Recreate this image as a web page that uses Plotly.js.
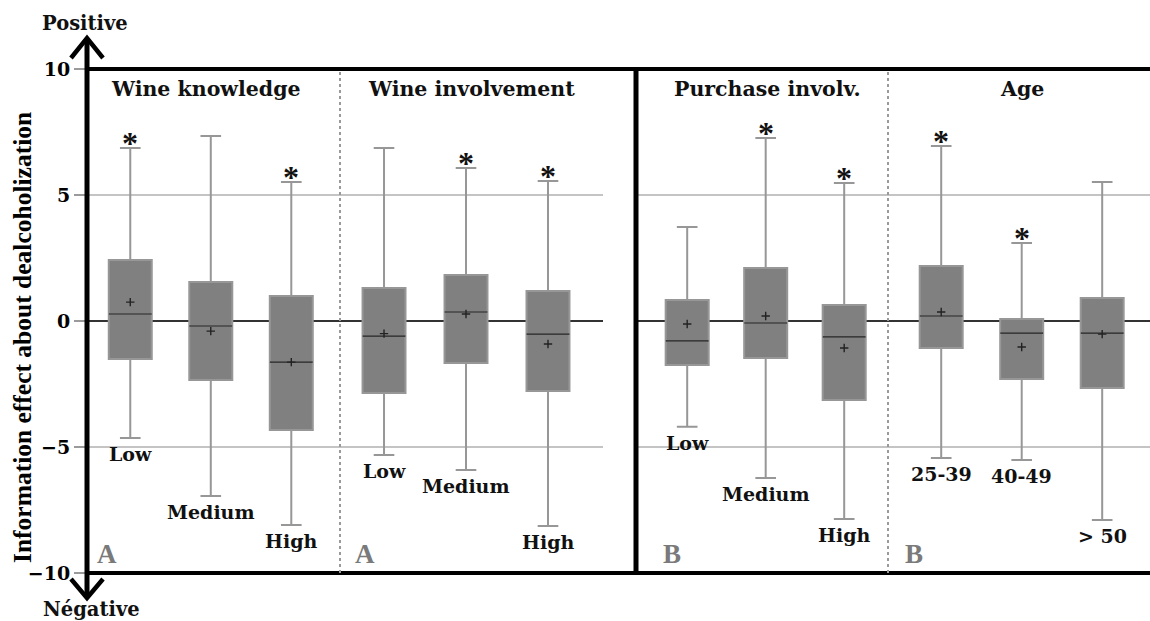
<!DOCTYPE html>
<html>
<head>
<meta charset="utf-8">
<script src="https://cdn.plot.ly/plotly-3.0.1.min.js"></script>
<style>html,body{margin:0;padding:0;background:#fff;}#chart{width:1150px;height:621px;}</style>
</head>
<body>
<div id="chart"></div>
<script>
// ---- Data ----
const panelTitles = ['Wine knowledge', 'Wine involvement', 'Purchase involv.', 'Age'];
const panelLetters = ['A', 'A', 'B', 'B'];

const levelCats = ['Low', 'Medium', 'High'];
const ageCats = ['25-39', '40-49', '> 50'];

// Wine knowledge
const wkQ1 = [-1.51, -2.34, -4.33];
const wkMed = [0.28, -0.20, -1.63];
const wkQ3 = [2.42, 1.55, 0.99];
const wkLo = [-4.64, -6.94, -8.10];
const wkHi = [6.87, 7.34, 5.52];
const wkMean = [0.75, -0.40, -1.63];
const wkSig = [true, false, true];

// Wine involvement
const wiQ1 = [-2.86, -1.67, -2.78];
const wiMed = [-0.60, 0.36, -0.52];
const wiQ3 = [1.31, 1.83, 1.19];
const wiLo = [-5.32, -5.91, -8.13];
const wiHi = [6.87, 6.07, 5.56];
const wiMean = [-0.50, 0.28, -0.91];
const wiSig = [false, true, true];

// Purchase involvement
const piQ1 = [-1.75, -1.47, -3.13];
const piMed = [-0.79, -0.08, -0.63];
const piQ3 = [0.83, 2.10, 0.63];
const piLo = [-4.20, -6.23, -7.86];
const piHi = [3.73, 7.26, 5.48];
const piMean = [-0.12, 0.20, -1.07];
const piSig = [false, true, true];

// Age
const agQ1 = [-1.07, -2.30, -2.66];
const agMed = [0.20, -0.48, -0.48];
const agQ3 = [2.18, 0.08, 0.91];
const agLo = [-5.44, -5.52, -7.90];
const agHi = [6.94, 3.10, 5.52];
const agMean = [0.36, -1.03, -0.52];
const agSig = [true, true, false];

const yTickVals = [-10, -5, 0, 5, 10];
const yTitle = 'Information effect about dealcoholization';
const topLabel = 'Positive';
const bottomLabel = 'Négative';

// ---- Build ----
const panels = [
  {cats: levelCats, q1: wkQ1, med: wkMed, q3: wkQ3, lo: wkLo, hi: wkHi, mean: wkMean, sig: wkSig},
  {cats: levelCats, q1: wiQ1, med: wiMed, q3: wiQ3, lo: wiLo, hi: wiHi, mean: wiMean, sig: wiSig},
  {cats: levelCats, q1: piQ1, med: piMed, q3: piQ3, lo: piLo, hi: piHi, mean: piMean, sig: piSig},
  {cats: ageCats, q1: agQ1, med: agMed, q3: agQ3, lo: agLo, hi: agHi, mean: agMean, sig: agSig}
];

const W = 1150, H = 621;
const M = {l: 88, r: 0, t: 69, b: 48};
const PW = W - M.l - M.r, PH = H - M.t - M.b;
const px2x = p => (p - M.l) / PW;
const px2y = p => (H - M.b - p) / PH;

const domainsPx = [[88, 340], [340, 603], [636, 888], [888, 1150]];
const ranges = [[-0.525, 2.605], [-0.537, 2.671], [-0.652, 2.558], [-0.661, 2.594]];
const boxWidths = [0.534, 0.524, 0.548, 0.534];
const titleShift = [-8, 0, 6, 3];
const letterShift = [7, 13, 25, 15];

const serif = 'Liberation Serif, Times New Roman, serif';
const wide = 'DejaVu Serif, serif';
const traces = [];
const annotations = [];
const layout = {
  width: W, height: H,
  margin: M,
  paper_bgcolor: '#fff', plot_bgcolor: '#fff',
  showlegend: false,
  font: {family: wide, color: '#111'},
  yaxis: {
    range: [-10, 10], tickvals: yTickVals, ticks: 'outside', ticklen: 13,
    tickwidth: 1.5, tickcolor: '#9a9a9a',
    showgrid: true, gridcolor: '#c4c4c4', gridwidth: 1.5,
    zeroline: true, zerolinecolor: '#333', zerolinewidth: 1.2,
    showline: false, anchor: 'x', fixedrange: true,
    tickfont: {family: wide, size: 19, weight: 'bold', color: '#000'}
  },
  shapes: [],
  annotations: annotations
};

panels.forEach((p, i) => {
  const xa = i === 0 ? 'x' : 'x' + (i + 1);
  const axKey = i === 0 ? 'xaxis' : 'xaxis' + (i + 1);
  layout[axKey] = {
    domain: [px2x(domainsPx[i][0]), px2x(domainsPx[i][1])],
    type: 'category', categoryorder: 'array', categoryarray: p.cats,
    range: ranges[i], showticklabels: false, ticks: '', showgrid: false,
    zeroline: false, showline: false, anchor: 'y', fixedrange: true
  };
  traces.push({
    type: 'box', xaxis: xa, yaxis: 'y', x: p.cats,
    q1: p.q1, median: p.med, q3: p.q3, lowerfence: p.lo, upperfence: p.hi,
    width: boxWidths[i], whiskerwidth: 0.48, boxpoints: false,
    fillcolor: '#808080', line: {color: '#979797', width: 2},
    hoverinfo: 'skip'
  });
  traces.push({
    type: 'scatter', mode: 'markers', xaxis: xa, yaxis: 'y', x: p.cats, y: p.med,
    marker: {symbol: 'line-ew', size: 30.5, line: {color: '#3c3c3c', width: 1.6}},
    hoverinfo: 'skip'
  });
  traces.push({
    type: 'scatter', mode: 'markers', xaxis: xa, yaxis: 'y', x: p.cats, y: p.mean,
    marker: {symbol: 'cross-thin', size: 6, line: {color: '#222', width: 1.4}},
    hoverinfo: 'skip'
  });
  p.cats.forEach((c, k) => {
    annotations.push({
      xref: xa, yref: 'y', x: c, y: p.lo[k], xanchor: 'center', yanchor: 'top', yshift: -3,
      text: c, showarrow: false,
      font: {family: wide, size: 19, weight: 'bold', color: '#111'}
    });
    if (p.sig[k]) {
      annotations.push({
        xref: xa, yref: 'y', x: c, y: p.hi[k], xanchor: 'center', yanchor: 'middle', yshift: 5,
        text: '*', showarrow: false,
        font: {family: serif, size: 32, weight: 'bold', color: '#111'}
      });
    }
  });
  annotations.push({
    xref: xa + ' domain', yref: 'paper', x: 0.5, y: 1, xanchor: 'center', yanchor: 'top', yshift: -6,
    xshift: titleShift[i], text: panelTitles[i], showarrow: false,
    font: {family: wide, size: 20.5, weight: 'bold', color: '#111'}
  });
  annotations.push({
    xref: xa + ' domain', yref: 'paper', x: 0, y: 0, xanchor: 'left', yanchor: 'bottom',
    xshift: letterShift[i], yshift: 2, text: panelLetters[i], showarrow: false,
    font: {family: serif, size: 27, weight: 'bold', color: '#7a7a7a'}
  });
});

annotations.push({
  xref: 'paper', yref: 'paper', x: px2x(22), y: px2y(338), xanchor: 'center', yanchor: 'middle',
  textangle: -90, text: yTitle, showarrow: false,
  font: {family: serif, size: 25.5, weight: 'bold', color: '#000'}
});
annotations.push({
  xref: 'paper', yref: 'paper', x: px2x(85), y: px2y(23), xanchor: 'center', yanchor: 'middle',
  text: topLabel, showarrow: false,
  font: {family: wide, size: 19.5, weight: 'bold', color: '#111'}
});
annotations.push({
  xref: 'paper', yref: 'paper', x: px2x(91), y: px2y(609), xanchor: 'center', yanchor: 'middle',
  text: bottomLabel, showarrow: false,
  font: {family: wide, size: 19.5, weight: 'bold', color: '#111'}
});

const axX = px2x(87);
layout.shapes.push(
  {type: 'line', xref: 'paper', yref: 'paper', x0: axX, x1: axX, y0: px2y(597), y1: px2y(40), line: {color: '#000', width: 5}},
  {type: 'path', xref: 'paper', yref: 'paper', path: `M ${px2x(71)} ${px2y(58)} L ${axX} ${px2y(38)} L ${px2x(103)} ${px2y(58)}`, line: {color: '#000', width: 4.5}},
  {type: 'path', xref: 'paper', yref: 'paper', path: `M ${px2x(71)} ${px2y(579)} L ${axX} ${px2y(598)} L ${px2x(103)} ${px2y(579)}`, line: {color: '#000', width: 4.5}},
  {type: 'line', xref: 'paper', yref: 'paper', x0: 0, x1: 1, y0: 1, y1: 1, line: {color: '#000', width: 4}},
  {type: 'line', xref: 'paper', yref: 'paper', x0: 0, x1: 1, y0: 0, y1: 0, line: {color: '#000', width: 4}},
  {type: 'line', xref: 'paper', yref: 'paper', x0: px2x(636), x1: px2x(636), y0: 0, y1: 1, line: {color: '#000', width: 5}},
  {type: 'line', xref: 'paper', yref: 'paper', x0: px2x(340), x1: px2x(340), y0: 0, y1: 1, line: {color: '#9a9a9a', width: 2, dash: 'dot'}},
  {type: 'line', xref: 'paper', yref: 'paper', x0: px2x(888), x1: px2x(888), y0: 0, y1: 1, line: {color: '#9a9a9a', width: 2, dash: 'dot'}}
);

Plotly.newPlot('chart', traces, layout, {staticPlot: true, displayModeBar: false});
</script>
</body>
</html>
